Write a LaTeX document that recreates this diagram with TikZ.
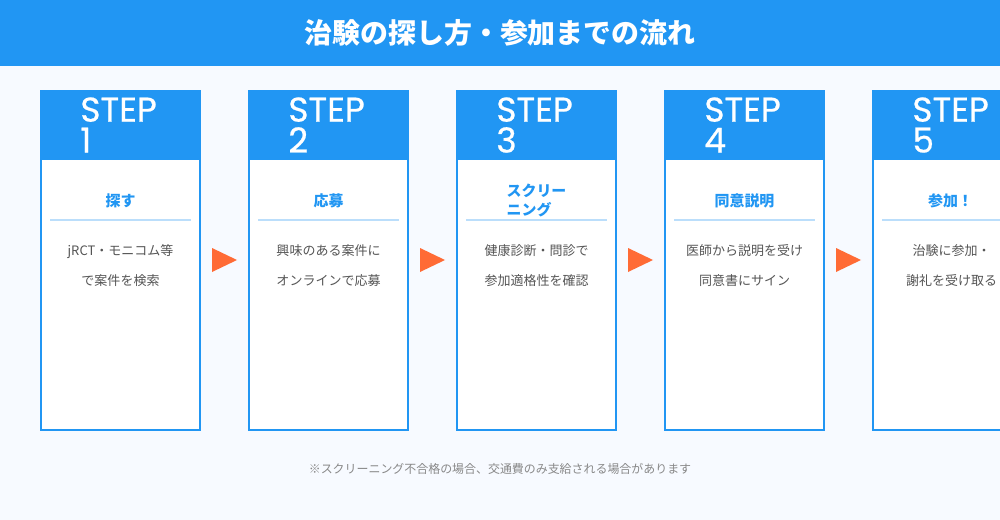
\documentclass[tikz,border=0pt]{standalone}
\usepackage{fontspec}
\setmainfont{Noto Sans CJK JP}
\newfontfamily\stepfont[FakeBold=0.6]{Poppins}
\usepackage{tikz}
\usetikzlibrary{positioning}

\definecolor{mainblue}{HTML}{2196F3}
\definecolor{pagebg}{HTML}{F7FAFF}
\definecolor{sepblue}{HTML}{BBDEFB}
\definecolor{arroworange}{HTML}{FF6B35}
\definecolor{desctext}{HTML}{555555}
\definecolor{notetext}{HTML}{888888}

\begin{document}
\begin{tikzpicture}[
  x=0.02cm, y=-0.02cm,
  bodybox/.style={rectangle, draw=mainblue, line width=1.13pt, fill=white, minimum width=3.18cm, minimum height=6.78cm, inner sep=0pt, outer sep=0pt},
  headbox/.style={rectangle, fill=mainblue, minimum width=3.22cm, minimum height=1.4cm, inner sep=0pt, outer sep=0pt},
  steplbl/.style={font=\stepfont\fontsize{19.6}{17.6}\selectfont, text=white, align=left, anchor=north west, inner sep=0pt},
  ttl/.style={font=\bfseries\fontsize{8.5}{11}\selectfont, text=mainblue, align=left, inner sep=0pt},
  desc/.style={font=\fontsize{7.4}{17}\selectfont, text=desctext, align=center, inner sep=0pt},
  sepline/.style={draw=sepblue, line width=0.6pt},
  arrowtri/.style={fill=arroworange}
]
\useasboundingbox (0,0) rectangle (1000,520);
\clip (0,0) rectangle (1000,520);
\fill[pagebg] (0,0) rectangle (1000,520);

% title band
\fill[mainblue] (0,0) rectangle (1000,66);
\node[font=\bfseries\fontsize{15.9}{18}\selectfont, text=white, inner sep=0pt] (title) at (500,33) {治験の探し方・参加までの流れ};

% step boxes
\node[bodybox] (b1) at (120.5,260.5) {};
\node[bodybox] (b2) at (328.5,260.5) {};
\node[bodybox] (b3) at (536.5,260.5) {};
\node[bodybox] (b4) at (744.5,260.5) {};
\node[bodybox] (b5) at (952.5,260.5) {};
\node[headbox] (h1) at (120.5,125) {};
\node[headbox] (h2) at (328.5,125) {};
\node[headbox] (h3) at (536.5,125) {};
\node[headbox] (h4) at (744.5,125) {};
\node[headbox] (h5) at (952.5,125) {};
\node[steplbl] (s1) at (80,97) {STEP\\1};
\node[steplbl] (s2) at (288,97) {STEP\\2};
\node[steplbl] (s3) at (496,97) {STEP\\3};
\node[steplbl] (s4) at (704,97) {STEP\\4};
\node[steplbl] (s5) at (912,97) {STEP\\5};

% step titles
\node[ttl] (t1) at (120.5,200.5) {探す};
\node[ttl] (t2) at (328.5,200.5) {応募};
\node[ttl] (t3) at (536.5,200.5) {スクリー\\ニング};
\node[ttl] (t4) at (744.5,200.5) {同意説明};
\node[ttl] (t5) at (950.5,200.5) {参加！};
\draw[sepline] (50,220) -- (191,220);
\draw[sepline] (258,220) -- (399,220);
\draw[sepline] (466,220) -- (607,220);
\draw[sepline] (674,220) -- (815,220);
\draw[sepline] (882,220) -- (1023,220);

% descriptions
\node[desc] (d1) at (120.5,265.5) {jRCT・モニコム等\\で案件を検索};
\node[desc] (d2) at (328.5,265.5) {興味のある案件に\\オンラインで応募};
\node[desc] (d3) at (536.5,265.5) {健康診断・問診で\\参加適格性を確認};
\node[desc] (d4) at (744.5,265.5) {医師から説明を受け\\同意書にサイン};
\node[desc] (d5) at (951.5,265.5) {治験に参加・\\謝礼を受け取る};

% arrows between steps
\fill[arrowtri] (212,248) -- (237,260) -- (212,272) -- cycle;
\fill[arrowtri] (420,248) -- (445,260) -- (420,272) -- cycle;
\fill[arrowtri] (628,248) -- (653,260) -- (628,272) -- cycle;
\fill[arrowtri] (836,248) -- (861,260) -- (836,272) -- cycle;

% note
\node[font=\fontsize{6.8}{8}\selectfont, text=notetext, inner sep=0pt] (note) at (500,469) {※スクリーニング不合格の場合、交通費のみ支給される場合があります};

\end{tikzpicture}
\end{document}
